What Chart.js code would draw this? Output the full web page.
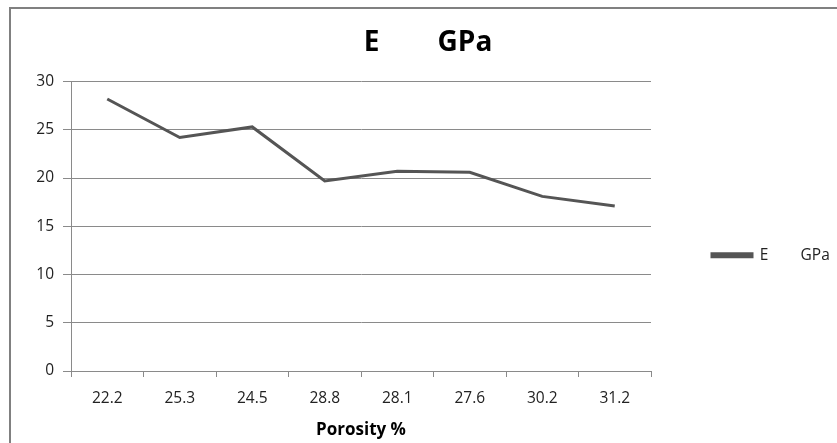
<!DOCTYPE html>
<html>
<head>
<meta charset="utf-8">
<script src="https://cdn.jsdelivr.net/npm/chart.js@4.4.1/dist/chart.umd.min.js"></script>
<style>
  html, body { margin: 0; padding: 0; background: #fff; overflow: hidden; }
  #frame { position: absolute; left: 9px; top: 7px; width: 900px; height: 500px; border: 2px solid #808080; box-sizing: border-box; }
  #wrap { position: absolute; left: 0; top: 0; width: 837px; height: 443px; }
</style>
</head>
<body>
<div id="frame"></div>
<div id="wrap"><canvas id="c" width="837" height="443"></canvas></div>
<script>
// Young's modulus against porosity
const porosity = ['22.2', '25.3', '24.5', '28.8', '28.1', '27.6', '30.2', '31.2'];
const modulusGPa = [28.2, 24.2, 25.3, 19.7, 20.7, 20.6, 18.1, 17.1];
const yTicks = [0, 5, 10, 15, 20, 25, 30];

const seriesName = 'E        GPa';
const lineColor = '#555555';
const gridColor = '#8a8a8a';
const font = '"Open Sans", "DejaVu Sans", sans-serif';

new Chart(document.getElementById('c'), {
  type: 'line',
  data: {
    labels: porosity,
    datasets: [{
      label: seriesName,
      data: modulusGPa,
      borderColor: lineColor,
      backgroundColor: lineColor,
      borderWidth: 3,
      pointRadius: 0,
      tension: 0,
      fill: false
    }]
  },
  options: {
    responsive: false,
    animation: false,
    layout: { padding: { left: 19, right: 0, top: 0, bottom: 3 } },
    plugins: {
      title: {
        display: true,
        text: seriesName,
        color: '#000',
        font: { family: font, size: 28, weight: 'bold' },
        padding: { top: 26, bottom: 22 }
      },
      legend: {
        display: true,
        position: 'right',
        maxWidth: 186,
        // empty heading only used to push the single entry down a little
        title: { display: true, text: ' ', padding: 28 },
        labels: {
          boxWidth: 40,
          boxHeight: 3,
          padding: 61,
          color: '#222',
          font: { family: font, size: 15.5 }
        }
      },
      tooltip: { enabled: false }
    },
    scales: {
      x: {
        offset: true,
        grid: { offset: true, drawOnChartArea: false, drawTicks: true, tickLength: 6, color: gridColor },
        border: { color: gridColor },
        ticks: { color: '#222', font: { family: font, size: 15.5 }, padding: 12, maxRotation: 0 },
        title: {
          display: true,
          text: 'Porosity %',
          color: '#000',
          font: { family: font, size: 17, weight: 'bold' },
          padding: { top: 0, bottom: 0 }
        }
      },
      y: {
        min: 0,
        max: 30,
        afterFit: (axis) => { axis.width = 52; },
        afterBuildTicks: (axis) => { axis.ticks = yTicks.map(v => ({ value: v })); },
        grid: { color: gridColor, tickLength: 8 },
        border: { color: gridColor },
        ticks: { color: '#222', font: { family: font, size: 15.5 }, padding: 9 }
      }
    }
  }
});
</script>
</body>
</html>
